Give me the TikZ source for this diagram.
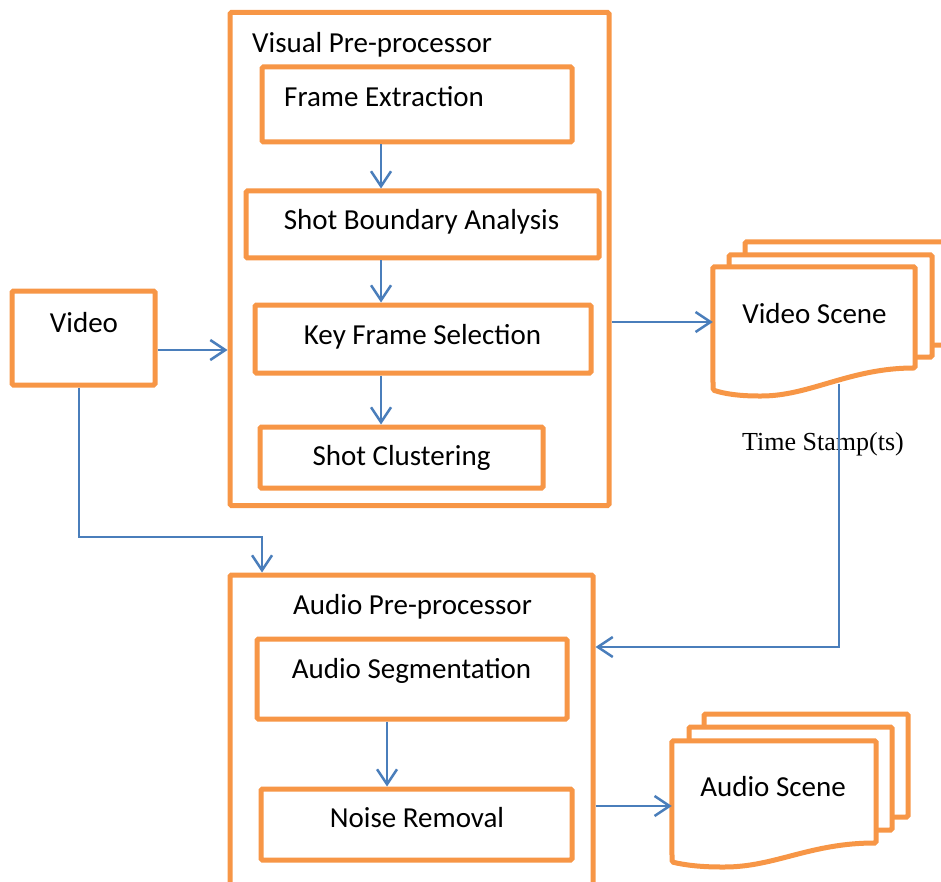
\documentclass[tikz,border=0pt]{standalone}
\usepackage{fontspec}
\setmainfont{Carlito}
\newfontfamily\timesfont{Liberation Serif}
\usetikzlibrary{arrows.meta}

\definecolor{orng}{HTML}{F79646}
\definecolor{blu}{HTML}{4A7EBB}

\begin{document}
\begin{tikzpicture}[x=1pt,y=-1pt,
  box/.style={draw=orng, line width=5pt, fill=white, rounded corners=1.5pt,
              inner sep=0pt, minimum width=#1},
  page/.style={draw=orng, line width=5pt, fill=white, rounded corners=1.5pt},
  lbl/.style={inner sep=0pt, font=\fontsize{29}{34}\selectfont},
  tslbl/.style={inner sep=0pt, font=\timesfont\fontsize{26}{30}\selectfont},
  arr/.style={draw=blu, line width=2pt,
              -{Straight Barb[length=15pt,width=20pt,line width=2.5pt]}},
  wire/.style={draw=blu, line width=2pt}]

\useasboundingbox (0,0) rectangle (941,882);

% ---- outer group boxes ----
\node[box=379pt, minimum height=493pt] (vis) at (419.5,259) {};
\node[box=363pt, minimum height=330pt] (aud) at (411.5,740) {};

% ---- input ----
\node[box=143pt, minimum height=94pt] (video) at (83.5,338) {};
\node[lbl, anchor=base] (video-t) at (84,332) {Video};

% ---- visual pre-processor ----
\node[lbl, anchor=base west] (vis-t) at (252,53) {Visual Pre-processor};
\node[box=310pt, minimum height=75pt] (fe) at (417,104.5) {};
\node[lbl, anchor=base west] (fe-t) at (284,107) {Frame Extraction};
\node[box=353pt, minimum height=67pt] (sba) at (422.5,224.5) {};
\node[lbl, anchor=base] (sba-t) at (421.5,230) {Shot Boundary Analysis};
\node[box=336pt, minimum height=68pt] (kfs) at (423,339) {};
\node[lbl, anchor=base] (kfs-t) at (422.5,344) {Key Frame Selection};
\node[box=283pt, minimum height=61pt] (sc) at (401.5,457.5) {};
\node[lbl, anchor=base] (sc-t) at (401.5,465) {Shot Clustering};

% ---- audio pre-processor ----
\node[lbl, anchor=base] (aud-t) at (412.5,614) {Audio Pre-processor};
\node[box=310pt, minimum height=80pt] (as) at (412,679) {};
\node[lbl, anchor=base] (as-t) at (411.5,678) {Audio Segmentation};
\node[box=311pt, minimum height=71pt] (nr) at (416.5,824.5) {};
\node[lbl, anchor=base] (nr-t) at (417,827) {Noise Removal};

% ---- video scene: stacked documents ----
\draw[page] (745,242) rectangle (965,345);
\draw[page] (729,255) rectangle (932,357);
\node[inner sep=0pt, minimum width=202pt, minimum height=125pt] (vs) at (814,329.5) {};
\draw[page] (vs.north west) -- (vs.north east) -- (915,368)
  .. controls (850,368) and (810,396) .. (760,396)
  .. controls (740,396) and (725,394) .. (713,390) -- cycle;
\node[lbl, anchor=base] (vs-t) at (814.5,323) {Video Scene};

% ---- audio scene: stacked documents ----
\draw[page] (704,714) rectangle (908,817);
\draw[page] (689,727) rectangle (892,830);
\node[inner sep=0pt, minimum width=204pt, minimum height=124pt] (asc) at (774,803) {};
\draw[page] (asc.north west) -- (asc.north east) -- (876,843)
  .. controls (810,843) and (775,867) .. (723,867)
  .. controls (700,867) and (685,865) .. (672,862) -- cycle;
\node[lbl, anchor=base] (asc-t) at (773,796) {Audio Scene};

% ---- connectors ----
\coordinate (x1) at (381,0);
\coordinate (x2) at (387,0);
\coordinate (y1) at (0,350);
\coordinate (y2) at (0,322);
\coordinate (y3) at (0,806);
\draw[arr] (fe.south -| x1) -- (sba.north -| x1);
\draw[arr] (sba.south -| x1) -- (kfs.north -| x1);
\draw[arr] (kfs.south -| x1) -- (sc.north -| x1);
\draw[arr] (as.south -| x2) -- (nr.north -| x2);

\draw[arr] (video.east |- y1) -- (vis.west |- y1);
\draw[arr] (vis.east |- y2) -- (vs.west |- y2);
\draw[arr] (aud.east |- y3) -- (asc.west |- y3);

\coordinate (vdrop) at (79,537);
\coordinate (vin) at (262,537);
\draw[arr] (video.south -| vdrop) -- (vdrop) -- (vin) -- (aud.north -| vin);

\coordinate (tsx) at (839,384);
\coordinate (tsy) at (839,647);
\node[tslbl, anchor=base west] (ts) at (742,450) {Time Stamp(ts)};
\draw[arr] (tsx) -- (tsy) -- (aud.east |- tsy);
\end{tikzpicture}
\end{document}
